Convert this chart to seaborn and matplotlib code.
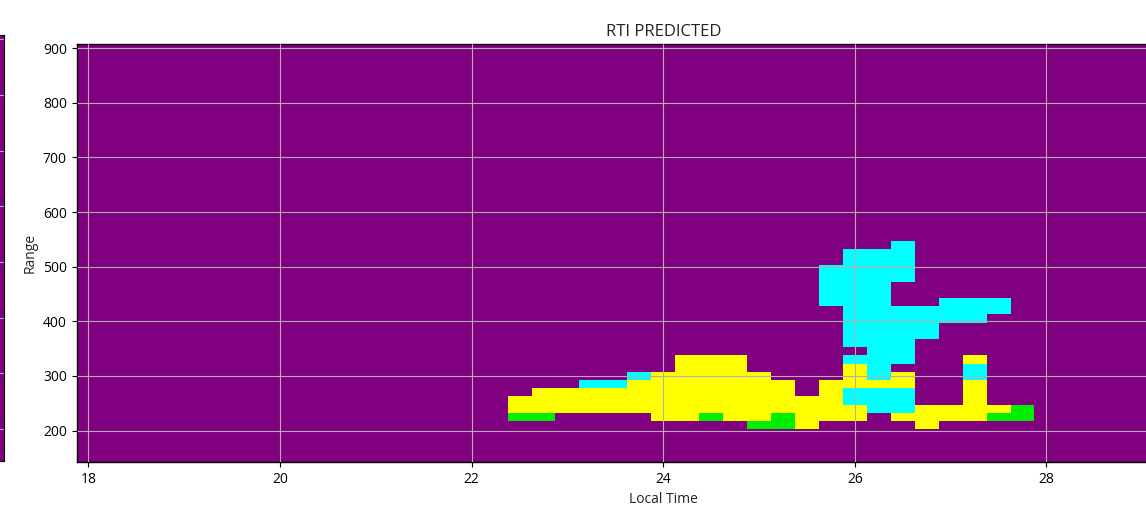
import numpy as np
import pandas as pd
import matplotlib
matplotlib.use("Agg")
import matplotlib.pyplot as plt
from matplotlib.colors import ListedColormap
import seaborn as sns

# Range gates (km) and local-time bins (hours past midnight of day 0)
range_gates = np.arange(150, 901, 15)
time_bins = np.arange(18.0, 30.01, 0.25)

# Classes: 0 = no echo, 1 = ground scatter, 2 = E/F echo, 3 = other echo
class_names = ["none", "green", "cyan", "yellow"]
class_colors = ["#800080", "#00ee00", "#00ffff", "#ffff00"]

# Predicted echo runs: (local time, lowest gate, highest gate)
green_runs = [
    (22.5, 225, 225), (22.75, 225, 225), (24.5, 225, 225), (25.0, 210, 210),
    (25.25, 210, 225), (27.5, 225, 225), (27.75, 225, 240),
]
cyan_runs = [
    (23.25, 285, 285), (23.5, 285, 285), (23.75, 300, 300),
    (25.75, 435, 495),
    (26.0, 255, 270), (26.0, 330, 330), (26.0, 360, 525),
    (26.25, 240, 270), (26.25, 300, 525),
    (26.5, 240, 270), (26.5, 330, 420), (26.5, 480, 540),
    (26.75, 375, 420), (27.0, 405, 435),
    (27.25, 300, 315), (27.25, 405, 435), (27.5, 420, 435),
]
yellow_runs = [
    (22.5, 240, 255), (22.75, 240, 270), (23.0, 240, 270), (23.25, 240, 270),
    (23.5, 240, 270), (23.75, 240, 285), (24.0, 225, 300), (24.25, 225, 330),
    (24.5, 240, 330), (24.75, 225, 330), (25.0, 225, 300), (25.25, 240, 285),
    (25.5, 210, 255), (25.75, 225, 285),
    (26.0, 225, 240), (26.0, 285, 315), (26.25, 285, 285),
    (26.5, 225, 225), (26.5, 285, 300), (26.75, 210, 240), (27.0, 225, 240),
    (27.25, 225, 285), (27.25, 330, 330), (27.5, 240, 240),
]

x_ticks = [18, 20, 22, 24, 26, 28]
y_ticks = [200, 300, 400, 500, 600, 700, 800, 900]

# Build the class grid, rows from the top gate down
rows = range_gates[::-1]
grid = pd.DataFrame(0, index=rows, columns=time_bins)
for code, runs in ((1, green_runs), (2, cyan_runs), (3, yellow_runs)):
    for t, lo, hi in runs:
        sel = (grid.index >= lo) & (grid.index <= hi)
        col = grid.columns[np.isclose(grid.columns, t)][0]
        grid.loc[sel, col] = code

sns.set_style("ticks")
plt.rcParams["font.family"] = ["Open Sans", "DejaVu Sans"]
plt.rcParams["axes.edgecolor"] = "black"
plt.rcParams["xtick.color"] = "black"
plt.rcParams["ytick.color"] = "black"
plt.rcParams["text.color"] = "#222222"
plt.rcParams["axes.labelcolor"] = "#222222"

W, H = 1146, 518
fig = plt.figure(figsize=(W / 100, H / 100), dpi=100)

# Neighbouring panel (only its right edge falls inside the figure)
ax0 = fig.add_axes([-296 / W, 57 / H, 300 / W, 426 / H])
ax0.set_facecolor(class_colors[0])
ax0.set_xlim(0, 1)
ax0.set_ylim(range_gates[0] - 7.5, range_gates[-1] + 7.5)
ax0.set_yticks(y_ticks)
ax0.set_yticklabels([])
ax0.set_xticks([])
ax0.tick_params(left=False)
ax0.grid(True, axis="y", color="#b0b0b0", linewidth=0.8)
for s in ax0.spines.values():
    s.set_color("black")

# Main panel
ax = fig.add_axes([76.5 / W, 56 / H, 1173.5 / W, 418 / H])
cmap = ListedColormap(class_colors)
sns.heatmap(grid, ax=ax, cmap=cmap, vmin=-0.5, vmax=3.5, cbar=False,
            xticklabels=False, yticklabels=False)

t0, dt = time_bins[0], time_bins[1] - time_bins[0]
r_top, dr = rows[0], rows[0] - rows[1]
ax.set_xticks([(t - t0) / dt + 0.5 for t in x_ticks])
ax.set_xticklabels([str(t) for t in x_ticks], rotation=0, fontsize=10)
ax.set_yticks([(r_top - r) / dr + 0.5 for r in y_ticks])
ax.set_yticklabels([str(r) for r in y_ticks], rotation=0, fontsize=10)
ax.tick_params(axis="both", length=3.5, width=0.8, direction="out",
               bottom=True, left=True)

for s in ax.spines.values():
    s.set_visible(True)
    s.set_color("black")
    s.set_linewidth(1.0)

ax.set_axisbelow(False)
ax.grid(True, color="#b0b0b0", linewidth=0.8)

ax.set_title("RTI PREDICTED", fontsize=12, pad=6)
ax.set_xlabel("Local Time", fontsize=10)
ax.set_ylabel("Range", fontsize=10)

fig.savefig("out.png", dpi=100)
